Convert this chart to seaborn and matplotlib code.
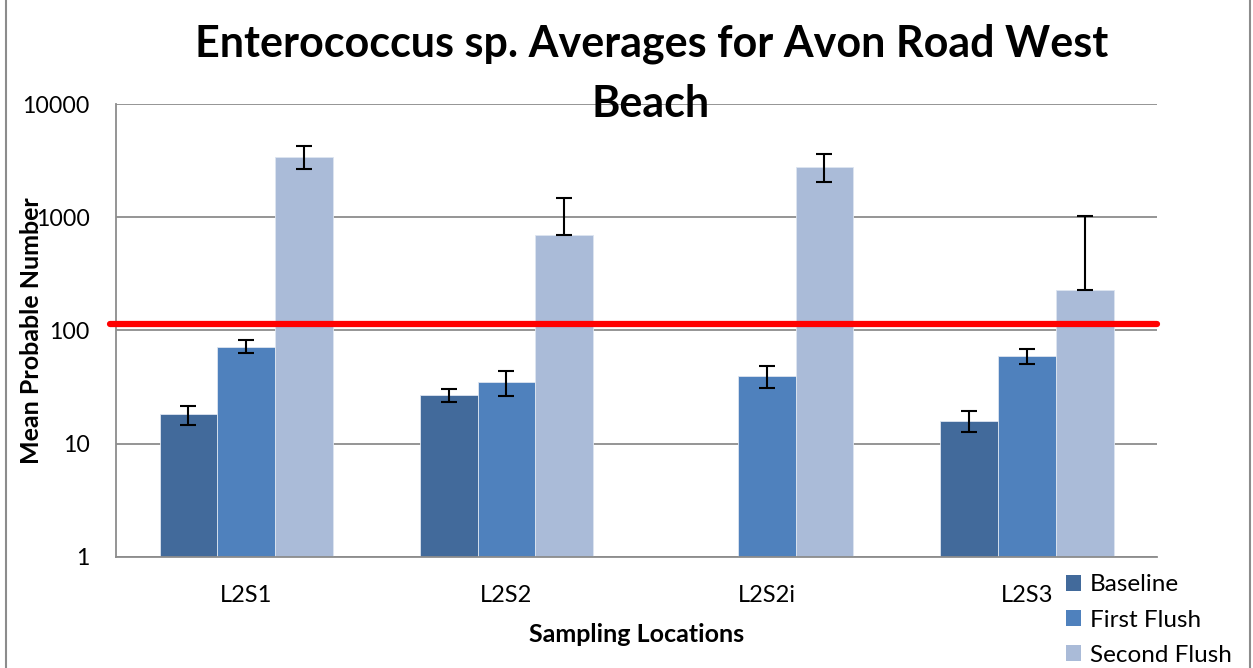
import numpy as np
import pandas as pd
import matplotlib
matplotlib.use("Agg")
import matplotlib.pyplot as plt
from matplotlib.patches import Rectangle, Patch
import seaborn as sns

# --- dados ---
locais = ["L2S1", "L2S2", "L2S2i", "L2S3"]
series = ["Baseline", "First Flush", "Second Flush"]
baseline = [18.2, 26.8, np.nan, 15.9]
first_flush = [72.0, 35.0, 39.7, 60.0]
second_flush = [3420, 703, 2790, 228]
# limites das barras de erro (inferior, superior)
baseline_err = [(14.7, 21.6), (23.4, 30.3), (np.nan, np.nan), (12.7, 19.4)]
first_err = [(63.0, 81.6), (26.4, 44.0), (31.3, 49.0), (51.0, 68.4)]
second_err = [(2660, 4250), (690, 1490), (2040, 3610), (228, 1020)]
limite = 115  # linha vermelha (valor de referência)
y_ticks = [1, 10, 100, 1000, 10000]
cores = ["#426A9B", "#4F81BD", "#AABBD8"]
titulo = ["Enterococcus sp. Averages for Avon Road West", "Beach"]

valores = [baseline, first_flush, second_flush]
erros = [baseline_err, first_err, second_err]

df = pd.DataFrame({
    "local": locais * 3,
    "serie": np.repeat(series, len(locais)),
    "valor": np.concatenate(valores),
})

sns.set_style("white")
plt.rcParams["font.family"] = ["Lato", "DejaVu Sans"]
plt.rcParams["text.color"] = "black"
plt.rcParams["axes.labelcolor"] = "black"
plt.rcParams["xtick.labelcolor"] = "black"
plt.rcParams["ytick.labelcolor"] = "black"

fig = plt.figure(figsize=(12.53, 6.68), dpi=100)
ax = fig.add_axes([0.0925, 0.1662, 0.8310, 0.6781])

largura = 0.665
sns.barplot(data=df, x="local", y="valor", hue="serie", order=locais,
            hue_order=series, palette=cores, width=largura, errorbar=None,
            saturation=1, legend=False, ax=ax,
            edgecolor="#dde5f0", linewidth=0.6)
ax.set_yscale("log")

# barras de erro assimétricas
for j, err in enumerate(erros):
    for i, (lo, hi) in enumerate(err):
        v = valores[j][i]
        if np.isnan(v):
            continue
        x = i + (j - 1) * largura / 3
        ax.errorbar(x, v, yerr=[[v - lo], [hi - v]], fmt="none", ecolor="black",
                    elinewidth=1.5, capsize=6, capthick=1.5, zorder=5)

ax.set_ylim(1, 10000)
ax.set_xlim(-0.5, len(locais) - 0.5)
ax.set_yticks(y_ticks)
ax.set_yticklabels([str(t) for t in y_ticks])
ax.yaxis.set_minor_locator(matplotlib.ticker.NullLocator())
ax.grid(axis="y", color="#8c8c8c", linewidth=1.3, zorder=0)
ax.set_axisbelow(True)

ax.set_xticks(np.arange(-0.5, len(locais)), labels=[""] * (len(locais) + 1))
ax.set_xticks(range(len(locais)), labels=locais, minor=True)
ax.tick_params(axis="x", which="major", length=8, width=1.2, color="#8c8c8c", direction="out")
ax.tick_params(axis="x", which="minor", length=0, pad=20, labelsize=17)
ax.tick_params(axis="y", length=6, width=1.2, color="#8c8c8c", direction="out",
               pad=13, labelsize=16.7)

for s in ["top", "right"]:
    ax.spines[s].set_visible(False)
for s in ["left", "bottom"]:
    ax.spines[s].set_color("#8c8c8c")
    ax.spines[s].set_linewidth(1.3)

ax.axhline(limite, xmin=-0.006, xmax=1.0, color="red", linewidth=4.5, zorder=6, clip_on=False)

ax.set_xlabel("Sampling Locations", fontsize=18, fontweight="bold")
ax.xaxis.set_label_coords(0.5, -0.145)
ax.set_ylabel("Mean Probable Number", fontsize=18, fontweight="bold")
ax.yaxis.set_label_coords(-0.07, 0.5)

fig.text(0.52, 1 - 57 / 668, titulo[0], ha="center", va="baseline",
         fontsize=31, fontweight="bold")
fig.text(0.519, 1 - 117 / 668, titulo[1], ha="center", va="baseline",
         fontsize=31, fontweight="bold")

handles = [Patch(facecolor=c, edgecolor="none") for c in cores]
fig.legend(handles, series, loc="upper left", bbox_to_anchor=(0.851, 0.140),
           frameon=False, fontsize=17.5, handlelength=0.62, handleheight=0.62,
           handletextpad=0.35, labelspacing=0.58, borderpad=0, borderaxespad=0,
           bbox_transform=fig.transFigure)

# moldura da figura
fig.patches.append(Rectangle((0.005, -0.01), 0.9925, 1.02, transform=fig.transFigure,
                             fill=False, edgecolor="#8c8c8c", linewidth=1.5))

fig.savefig("out.png", dpi=100)
